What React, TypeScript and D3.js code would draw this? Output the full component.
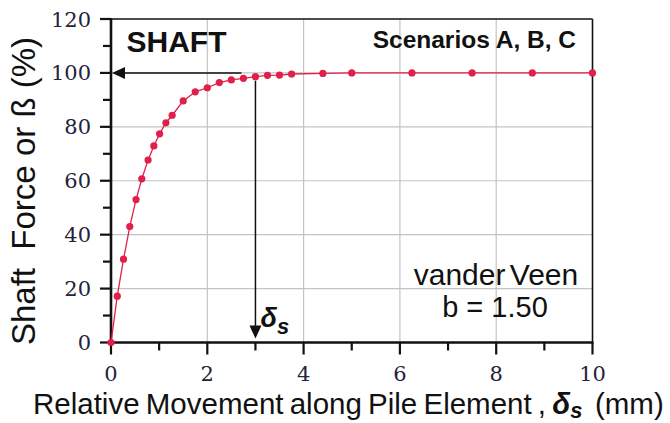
import * as d3 from "d3";

// readings from the reference curve (van der Veen, b = 1.50)
const movement = [0, 0.13, 0.26, 0.39, 0.52, 0.64, 0.77, 0.89, 1.01, 1.14, 1.27, 1.5, 1.75, 2.0, 2.25, 2.5, 2.75, 3.0, 3.25, 3.5, 3.75, 4.4, 5.0, 6.25, 7.5, 8.75, 10];
const shaftForce = [0, 17.2, 30.9, 43.0, 53.0, 60.7, 67.7, 72.9, 77.4, 81.5, 84.3, 89.6, 93.0, 94.5, 96.4, 97.4, 98.0, 98.6, 99.1, 99.2, 99.6, 99.8, 100, 100, 100, 100, 100];

const xTicks = [0, 2, 4, 6, 8, 10];
const xMinor = [1, 3, 5, 7, 9];
const yTicks = [0, 20, 40, 60, 80, 100, 120];
const yMinor = [10, 30, 50, 70, 90, 110];

const deltaMark = 3.0; // δs pointer
const fullForce = 100;

const W = 670;
const H = 423;
const RED = "#e21e4b";
const tickFont = "'DejaVu Serif', serif";
const sans = "'Liberation Sans', Arial, sans-serif";

export default function App() {
  const x = d3.scaleLinear().domain([0, 10]).range([111, 592.5]);
  const y = d3.scaleLinear().domain([0, 120]).range([342.5, 19]);

  const pts = movement.map((m, i) => [m, shaftForce[i]] as [number, number]);
  const line = d3.line<[number, number]>().x((d) => x(d[0])).y((d) => y(d[1]));

  const x0 = x(0);
  const y0 = y(0);
  const hy = y(fullForce);
  const vx = x(deltaMark);

  return (
    <svg width={W} height={H} viewBox={`0 0 ${W} ${H}`}
      style={{ position: "absolute", left: 0, top: 0, background: "#fff" }}>
      {/* grid */}
      {xTicks.filter((t) => t > 0 && t < 10).map((t) => (
        <line key={"gx" + t} x1={x(t)} x2={x(t)} y1={y(0)} y2={y(120)} stroke="#c3c3c3" strokeWidth={1.2} />
      ))}
      {yTicks.filter((t) => t > 0 && t < 120).map((t) => (
        <line key={"gy" + t} x1={x(0)} x2={x(10)} y1={y(t)} y2={y(t)} stroke="#c3c3c3" strokeWidth={1.2} />
      ))}

      {/* frame */}
      <line x1={x(0)} x2={x(10)} y1={y(120)} y2={y(120)} stroke="#111" strokeWidth={1.6} />
      <line x1={x(10)} x2={x(10)} y1={y(0)} y2={y(120)} stroke="#111" strokeWidth={1.6} />

      {/* ticks */}
      {yTicks.map((t) => (
        <line key={"ty" + t} x1={x0 - 11} x2={x0} y1={y(t)} y2={y(t)} stroke="#111" strokeWidth={2.2} />
      ))}
      {yMinor.map((t) => (
        <line key={"tym" + t} x1={x0 - 8} x2={x0} y1={y(t)} y2={y(t)} stroke="#111" strokeWidth={2.2} />
      ))}
      {xTicks.map((t) => (
        <line key={"tx" + t} x1={x(t)} x2={x(t)} y1={y0} y2={y0 + 12} stroke="#111" strokeWidth={2.2} />
      ))}
      {xMinor.map((t) => (
        <line key={"txm" + t} x1={x(t)} x2={x(t)} y1={y0} y2={y0 + 8} stroke="#111" strokeWidth={2.2} />
      ))}

      {/* axes */}
      <line x1={x0} x2={x0} y1={y(0) + 1} y2={y(120) - 1} stroke="#111" strokeWidth={2.6} />
      <line x1={x0 - 1} x2={x(10) + 1} y1={y0} y2={y0} stroke="#111" strokeWidth={2.6} />

      {/* tick labels */}
      {yTicks.map((t) => (
        <text key={"ly" + t} x={91} y={y(t)} dy="0.36em" textAnchor="end"
          fontFamily={tickFont} fontSize={21} fill="#23233a">{t}</text>
      ))}
      {xTicks.map((t) => (
        <text key={"lx" + t} x={x(t)} y={381} textAnchor="middle"
          fontFamily={tickFont} fontSize={21} fill="#23233a">{t}</text>
      ))}

      {/* curve */}
      <path d={line(pts) ?? ""} fill="none" stroke={RED} strokeWidth={1.3} />
      {pts.map((d, i) => (
        <circle key={"p" + i} cx={x(d[0])} cy={y(d[1])} r={3.6} fill={RED} />
      ))}

      {/* pointer arrows */}
      <line x1={x0 + 10} x2={241.5} y1={hy} y2={hy} stroke="#111" strokeWidth={1.5} />
      <path d={`M${x0 + 1},${hy} L${x0 + 14},${hy - 6} L${x0 + 14},${hy + 6} Z`} fill="#111" />
      <line x1={vx} x2={vx} y1={y(98.6) + 4} y2={y0 - 12} stroke="#111" strokeWidth={1.5} />
      <path d={`M${vx},${y0 - 4} L${vx - 6},${y0 - 17} L${vx + 6},${y0 - 17} Z`} fill="#111" />
      <text x={vx + 5} y={327} fontFamily={sans} fontWeight="bold" fontStyle="italic" fontSize={27} fill="#111">
        δ<tspan fontSize={22} dy={7}>s</tspan>
      </text>

      {/* annotations */}
      <text x={126.5} y={51.5} fontFamily={sans} fontWeight="bold" fontSize={30} fill="#111">SHAFT</text>
      <text x={576} y={48} textAnchor="end" fontFamily={sans} fontWeight="bold" fontSize={24.5} fill="#111">
        Scenarios A, B, C
      </text>
      <text x={496} y={285} textAnchor="middle" fontFamily={sans} fontSize={30} fill="#111" wordSpacing={-4}>
        vander Veen
      </text>
      <text x={495} y={316.5} textAnchor="middle" fontFamily={sans} fontSize={29} fill="#111">b = 1.50</text>

      {/* axis titles */}
      <text transform="translate(35,191) rotate(-90)" textAnchor="middle" fontFamily={sans} fontSize={33}
        fill="#111" style={{ whiteSpace: "pre" }}>
        {"Shaft  Force or ß (%)"}
      </text>
      <text x={33} y={414} fontFamily={sans} fontSize={29.5} fill="#111" style={{ whiteSpace: "pre" }} wordSpacing={-2}>
        {"Relative Movement along Pile Element , "}
        <tspan fontWeight="bold" fontStyle="italic">δ</tspan>
        <tspan fontWeight="bold" fontStyle="italic" fontSize={22} dy={4}>s</tspan>
        <tspan dy={-4}>{"  (mm)"}</tspan>
      </text>
    </svg>
  );
}
